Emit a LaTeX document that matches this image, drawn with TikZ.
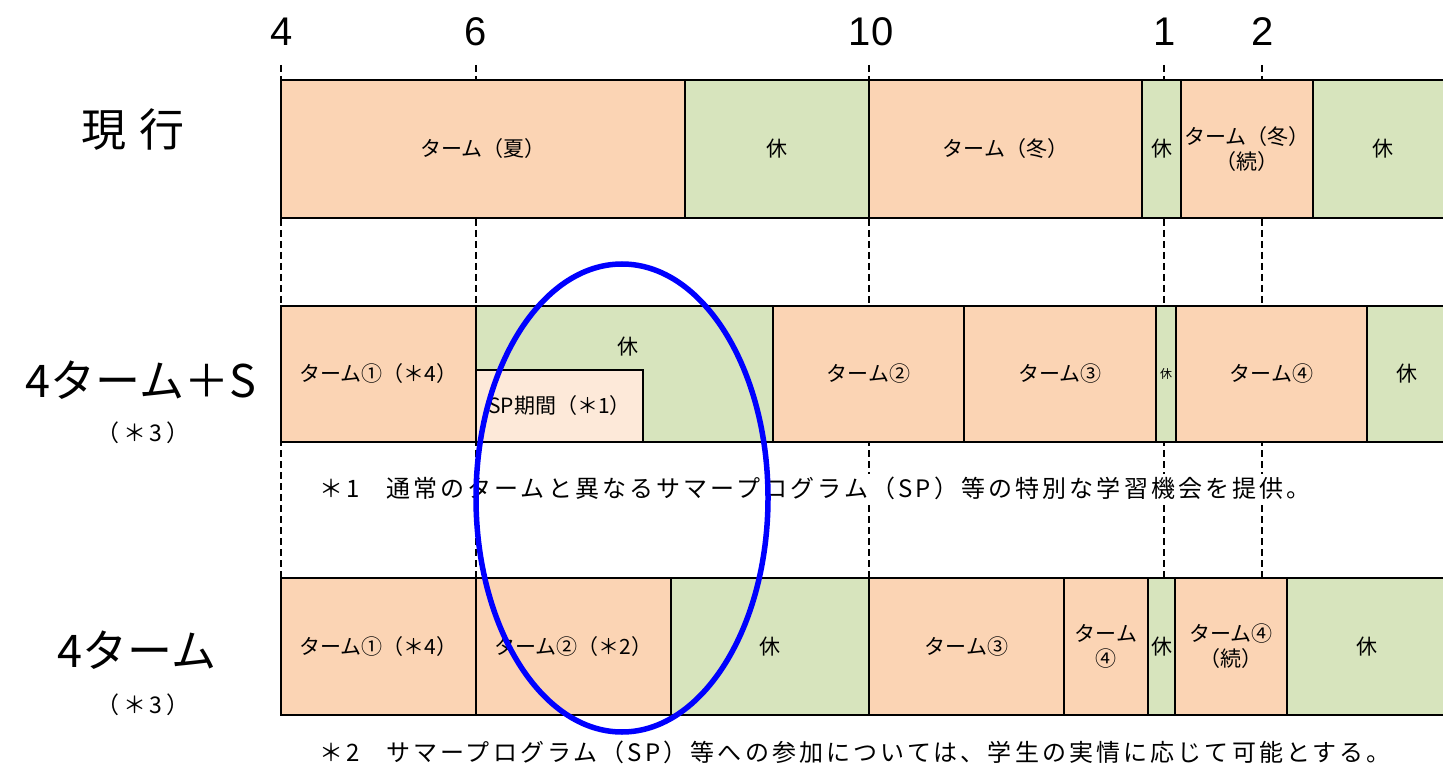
\documentclass[tikz,border=0pt]{standalone}
\usepackage{fontspec}
\setmainfont{Noto Sans CJK JP}
\newfontfamily\numfont{Liberation Sans}
\usetikzlibrary{positioning}
\definecolor{termfill}{HTML}{FBD4B4}
\definecolor{restfill}{HTML}{D7E4BD}
\definecolor{spfill}{HTML}{FDE9D9}
\tikzset {
    cell/.style={
        draw=black,
        line width=2pt,
        rectangle, % plain box
        inner sep=0pt,
        outer sep=0pt,
        anchor=north west,
        align=center,
        font=\fontsize{21}{25}\selectfont,
    },
    term/.style={cell, fill=termfill},
    rest/.style={cell, fill=restfill},
    spbox/.style={cell, fill=spfill},
    row one/.style={minimum height=138},
    row two/.style={minimum height=136},
    row three/.style={minimum height=137},
    guide/.style={draw=black, line width=1.8pt, dash pattern=on 7pt off 4pt},
    month/.style={font=\numfont\fontsize{40}{44}\selectfont},
    rowname/.style={font=\fontsize{45}{50}\selectfont},
    subname/.style={font=\fontsize{23}{26}\selectfont\addfontfeatures{LetterSpace=16}},
    note/.style={fill=white, inner sep=3pt, anchor=west,
        font=\fontsize{24}{28}\selectfont\addfontfeatures{LetterSpace=13}},
}

\begin{document}
\begin{tikzpicture}[x=1pt, y=-1pt]
\useasboundingbox (0,0) rectangle (1443,767);

% months and guide lines
\node[month] (m4) at (282,32) {4};
\node[month] (m6) at (476,32) {6};
\node[month] (m10) at (871,32) {10};
\node[month] (m1) at (1165,32) {1};
\node[month] (m2) at (1263,32) {2};
\foreach \m/\x in {4/281,6/476,10/869,1/1164,2/1262} {
  \coordinate (g\m top) at (\x,65);
  \coordinate (g\m bot) at (\x,578);
  \draw[guide] (g\m top) -- (g\m bot);
}

% row names
\node[rowname] (now) at (133,130) {現\hspace{0.3em}行};
\node[rowname] (fourS) at (141,380) {4ターム＋S};
\node[subname] (fourSnote) at (143,433) {（＊3）};
\node[rowname] (four) at (137,650) {4ターム};
\node[subname] (fournote) at (143,705) {（＊3）};

% current
\node[term, row one, minimum width=404] (summer) at (281,80) {ターム（夏）};
\node[rest, row one, minimum width=184] (nowrestA) at (685,80) {休};
\node[term, row one, minimum width=273] (winter) at (869,80) {ターム（冬）};
\node[rest, row one, minimum width=39] (nowrestB) at (1142,80) {休};
\node[term, row one, minimum width=132] (winterB) at (1181,80) {ターム（冬）\\（続）};
\node[rest, row one, minimum width=140] (nowrestC) at (1313,80) {休};

% 4 terms + S
\node[term, row two, minimum width=195] (sTermA) at (281,306) {ターム①（＊4）};
\node[rest, row two, minimum width=297] (sRestA) at (476,306) {};
\node[font=\fontsize{21}{25}\selectfont] (sRestAlabel) at (628,347) {休};
\node[spbox, minimum width=167, minimum height=72] (spPeriod) at (476,370) {SP期間（＊1）};
\node[term, row two, minimum width=191] (sTermB) at (773,306) {ターム②};
\node[term, row two, minimum width=192] (sTermC) at (964,306) {ターム③};
\node[rest, row two, minimum width=20, font=\fontsize{12}{12}\selectfont] (sRestB) at (1156,306) {休};
\node[term, row two, minimum width=191] (sTermD) at (1176,306) {ターム④};
\node[rest, row two, minimum width=80] (sRestC) at (1367,306) {休};

\node[note] (noteA) at (316,488) {＊1\hspace{1.1em}通常のタームと異なるサマープログラム（SP）等の特別な学習機会を提供。};

% 4 terms
\node[term, row three, minimum width=195] (fTermA) at (281,578) {ターム①（＊4）};
\node[term, row three, minimum width=195] (fTermB) at (476,578) {ターム②（＊2）};
\node[rest, row three, minimum width=198] (fRestA) at (671,578) {休};
\node[term, row three, minimum width=195] (fTermC) at (869,578) {ターム③};
\node[term, row three, minimum width=84] (fTermD) at (1064,578) {ターム\\④};
\node[rest, row three, minimum width=27] (fRestB) at (1148,578) {休};
\node[term, row three, minimum width=112] (fTermE) at (1175,578) {ターム④\\（続）};
\node[rest, row three, minimum width=160] (fRestC) at (1287,578) {休};

\node[note] (noteB) at (316,752) {＊2\hspace{1.1em}サマープログラム（SP）等への参加については、学生の実情に応じて可能とする。};

% highlight
\draw[blue, line width=5.5pt] (622,498) ellipse [x radius=146, y radius=234];
\end{tikzpicture}
\end{document}
